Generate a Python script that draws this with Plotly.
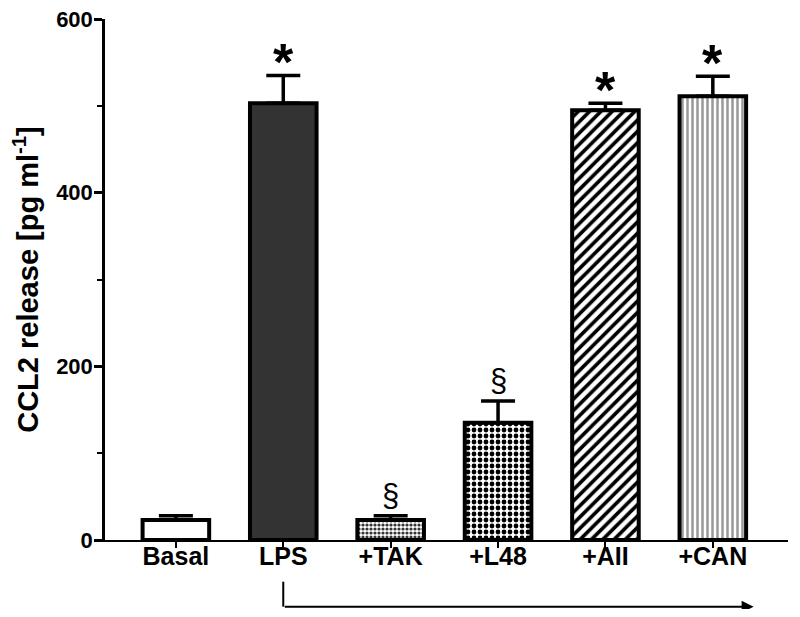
import plotly.graph_objects as go

categories = ["Basal", "LPS", "+TAK", "+L48", "+AII", "+CAN"]
values = [23, 503, 23, 135, 495, 511]
errors = [5, 32, 5, 25, 8, 23]
marks = ["", "*", "§", "§", "*", "*"]

fills = ["white", "#333333", "white", "white", "white", "white"]
shapes = ["", "", ".", ".", "/", "|"]
fgcolors = ["black", "black", "#333333", "black", "black", "#999999"]
psizes = [8, 8, 4, 6, 8, 5]
psolid = [0.3, 0.3, 0.5, 0.5, 0.45, 0.5]

fig = go.Figure()
for i, c in enumerate(categories):
    marker = dict(color=fills[i], line=dict(color="black", width=4))
    if shapes[i]:
        marker["pattern"] = dict(shape=shapes[i], fgcolor=fgcolors[i],
                                 bgcolor="white", size=psizes[i],
                                 solidity=psolid[i], fillmode="replace")
    fig.add_trace(go.Bar(
        x=[i], y=[values[i]], width=0.62, marker=marker,
        error_y=dict(type="data", symmetric=False, array=[errors[i]],
                     arrayminus=[0], color="black", thickness=3.5, width=17),
        showlegend=False, name=c,
    ))

for i, (v, e, m) in enumerate(zip(values, errors, marks)):
    if not m:
        continue
    if m == "*":
        fig.add_annotation(x=i, y=v + e, text="<b>*</b>", showarrow=False,
                           yanchor="bottom", yshift=-18,
                           font=dict(family="Liberation Sans", size=52, color="black"))
    else:
        fig.add_annotation(x=i, y=v + e, text="§", showarrow=False,
                           yanchor="bottom", yshift=1,
                           font=dict(family="Liberation Sans", size=31, color="black"))

# bracket arrow under the axis from LPS to the end
fig.add_shape(type="line", xref="x", yref="paper", x0=1, x1=1, y0=-0.08, y1=-0.128,
              line=dict(color="black", width=2))
fig.add_annotation(x=5.38, y=-0.128, xref="x", yref="paper", ax=1, axref="x",
                   ay=0, ayref="pixel", text="", showarrow=True,
                   arrowhead=2, arrowsize=1.2, arrowwidth=2, arrowcolor="black")

fig.update_layout(
    width=784, height=601,
    margin=dict(l=97, r=4, t=11, b=69, autoexpand=False),
    plot_bgcolor="white", paper_bgcolor="white",
    font=dict(family="Liberation Sans", color="black"),
    barmode="overlay",
)
fig.update_xaxes(
    range=[-0.66, 5.7], automargin=False,
    tickmode="array", tickvals=list(range(len(categories))),
    ticktext=["<b>%s</b>" % c for c in categories],
    tickfont=dict(size=25, family="Liberation Sans"),
    ticklabelstandoff=-13, ticklabeloverflow="allow",
    showline=True, linecolor="black", linewidth=2,
    ticks="outside", ticklen=6, tickwidth=2, tickcolor="black",
    showgrid=False, zeroline=False,
)
fig.update_yaxes(
    range=[0, 600], automargin=False,
    tickmode="array", tickvals=[0, 200, 400, 600],
    ticktext=["<b>0</b>", "<b>200</b>", "<b>400</b>", "<b>600</b>"],
    tickfont=dict(size=22, family="Liberation Sans"),
    ticklabelstandoff=-3, ticklabeloverflow="allow",
    showline=True, linecolor="black", linewidth=2.5,
    ticks="outside", ticklen=8, tickwidth=2.5, tickcolor="black",
    minor=dict(tickvals=[100, 300, 500], ticks="outside", ticklen=5,
               tickwidth=2, tickcolor="black"),
    showgrid=False, zeroline=False,
    title=dict(text="<b>CCL2 release [pg ml<sup>-1</sup>]</b>",
               font=dict(size=29, family="Liberation Sans")),
)

fig.write_html("out.html")
